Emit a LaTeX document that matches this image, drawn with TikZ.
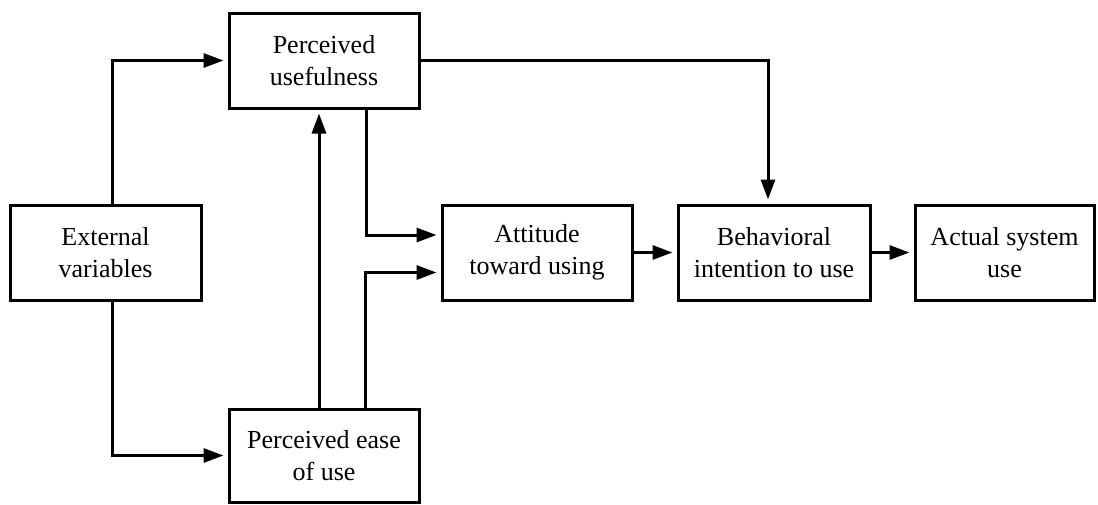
\documentclass[tikz,border=0pt]{standalone}
\usepackage{fontspec}
\setmainfont{Liberation Serif}
\usetikzlibrary{arrows.meta}
\begin{document}
\begin{tikzpicture}[x=1pt,y=-1pt,
  box/.style={draw, line width=3pt, minimum width=#1, minimum height=95pt, inner sep=0pt, align=center,
    font=\fontsize{26}{32}\selectfont},
  arr/.style={line width=3pt, -{Triangle[length=20pt,width=14pt]}, shorten >=4pt}]
\useasboundingbox (0,0) rectangle (1098,504);
\node[box=191pt] (ev) at (105.5,253) {External\\variables};
\node[box=190pt] (pu) at (324,60.5) {Perceived\\usefulness};
\node[box=190pt, minimum height=93pt] (peou) at (324,455.5) {Perceived ease\\of use};
\node[box=190pt] (att) at (537,252.5) {Attitude\\toward using};
\node[box=192pt] (bi) at (774,252.5) {Behavioral\\intention to use};
\node[box=179pt] (asu) at (1004.5,252.5) {Actual system\\use};
\draw[arr] ([xshift=7pt]ev.north) |- (pu.west);
\draw[arr] ([xshift=7pt]ev.south) |- (peou.west);
\draw[arr] ([xshift=-5pt]peou.north) -- ([xshift=-5pt]pu.south);
\draw[arr] ([xshift=42pt]pu.south) |- ([yshift=17.5pt]att.west);
\draw[arr] ([xshift=41pt]peou.north) |- ([yshift=-20pt]att.west);
\draw[arr] (att.east) -- (bi.west);
\draw[arr] (bi.east) -- (asu.west);
\draw[arr] (pu.east) -| ([xshift=-6pt]bi.north);
\end{tikzpicture}
\end{document}
